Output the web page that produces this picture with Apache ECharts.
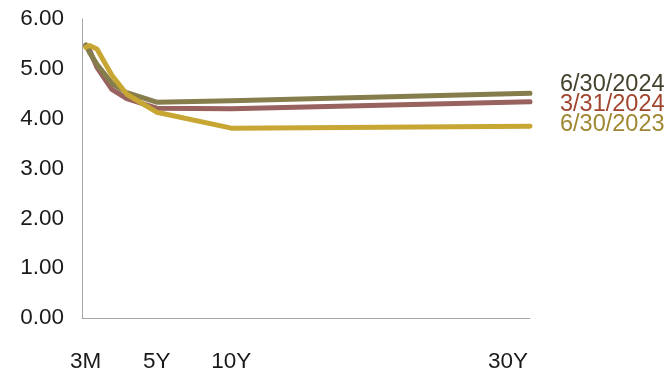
<!DOCTYPE html>
<html>
<head>
<meta charset="utf-8">
<script src="https://cdn.jsdelivr.net/npm/echarts@6/dist/echarts.min.js"></script>
<style>
html,body{margin:0;padding:0;background:#fff;}
#chart{width:667px;height:378px;}
</style>
</head>
<body>
<div id="chart"></div>
<script>
// Maturities in years
var maturities = [0.25, 0.5, 1, 2, 3, 5, 10, 30];
var tickValues = [0.25, 5, 10];
var tickLabels = ['3M', '5Y', '10Y'];
var lastTickValue = 30;
var lastTickLabel = '30Y';
var yTicks = [0, 1, 2, 3, 4, 5, 6];

var seriesNames = ['3/31/2024', '6/30/2024', '6/30/2023'];
var yields_2024_03_31 = [5.46, 5.38, 5.03, 4.59, 4.40, 4.21, 4.20, 4.34];
var yields_2024_06_30 = [5.48, 5.33, 5.09, 4.71, 4.52, 4.33, 4.36, 4.51];
var yields_2023_06_30 = [5.43, 5.47, 5.40, 4.87, 4.49, 4.13, 3.81, 3.85];

var lineColors = ['#98625F', '#857D4B', '#C8A634'];
var labelColors = ['#A0462E', '#45432F', '#A08732'];
var labelOffsets = [[0, 3], [0, -9], [0, -2]];
var allYields = [yields_2024_03_31, yields_2024_06_30, yields_2023_06_30];

function pairs(ys) {
  return maturities.map(function (m, i) { return [m, ys[i]]; });
}

var font = 'Liberation Sans, Arial, sans-serif';
var chart = echarts.init(document.getElementById('chart'), null, {renderer: 'canvas'});

var series = allYields.map(function (ys, i) {
  return {
    name: seriesNames[i],
    type: 'line',
    data: pairs(ys),
    showSymbol: false,
    symbol: 'none',
    lineStyle: {width: 5, color: lineColors[i], cap: 'round', join: 'round'},
    itemStyle: {color: lineColors[i]},
    endLabel: {
      show: true,
      formatter: seriesNames[i],
      color: labelColors[i],
      fontSize: 23.5,
      fontFamily: font,
      distance: 30,
      offset: labelOffsets[i]
    },
    animation: false,
    z: 2 + i
  };
});

chart.setOption({
  backgroundColor: '#ffffff',
  animation: false,
  grid: {left: 82, right: 137, top: 19, bottom: 60, containLabel: false},
  xAxis: [{
    type: 'value',
    min: 0,
    max: 30,
    axisLine: {show: true, lineStyle: {color: '#A6A6A6', width: 1}},
    axisTick: {show: false},
    splitLine: {show: false},
    axisLabel: {
      show: true,
      customValues: tickValues,
      formatter: function (v) {
        var idx = tickValues.indexOf(v);
        return idx >= 0 ? tickLabels[idx] : '';
      },
      margin: 32,
      fontSize: 22.5,
      fontFamily: font,
      color: '#1a1a1a'
    }
  }, {
    type: 'value',
    position: 'bottom',
    min: 0,
    max: 30,
    axisLine: {show: false},
    axisTick: {show: false},
    splitLine: {show: false},
    axisLabel: {
      show: true,
      customValues: [lastTickValue],
      formatter: function () { return lastTickLabel; },
      align: 'right',
      margin: 32,
      fontSize: 22.5,
      fontFamily: font,
      color: '#1a1a1a',
      padding: [0, 2, 0, 0]
    }
  }],
  yAxis: {
    type: 'value',
    min: yTicks[0],
    max: yTicks[yTicks.length - 1],
    interval: 1,
    axisLine: {show: true, lineStyle: {color: '#A6A6A6', width: 1}},
    axisTick: {show: false},
    splitLine: {show: false},
    axisLabel: {
      formatter: function (v) { return v.toFixed(2); },
      margin: 18,
      fontSize: 22.5,
      fontFamily: font,
      color: '#1a1a1a'
    }
  },
  series: series
});
</script>
</body>
</html>
